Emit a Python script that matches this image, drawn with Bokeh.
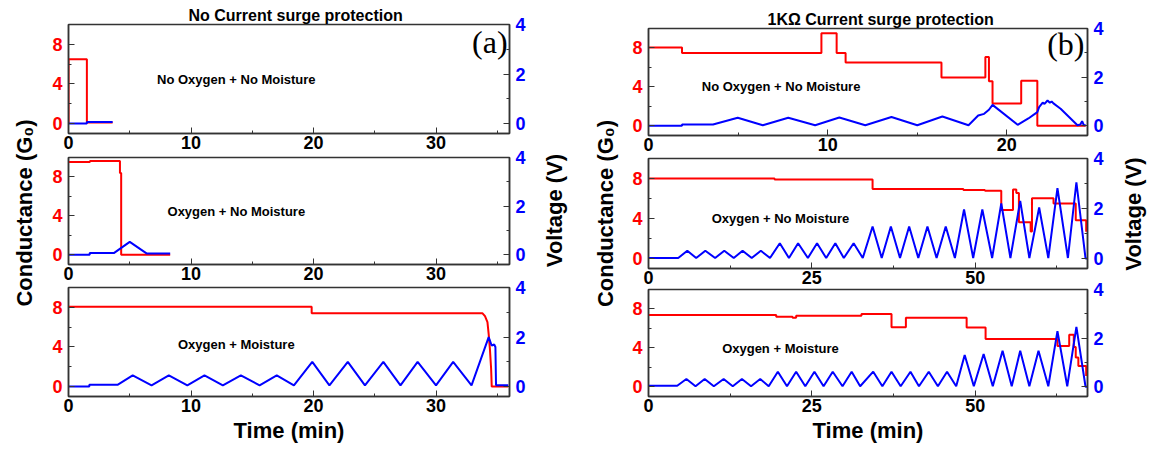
import math
from bokeh.plotting import figure
from bokeh.models import Range1d, LinearAxis, FixedTicker, Label, Title
from bokeh.layouts import row, column
from bokeh.embed import file_html
from bokeh.resources import INLINE

FONT = "Liberation Sans"
RED = "#ff0000"
BLUE = "#0000ff"
DARK = "#333333"

# ---------------- data: (a) No current surge protection ----------------
a1_gt = [0, 0, 1.5, 1.5, 3.6]
a1_g = [0, 6.5, 6.5, 0.1, 0.1]
a1_vt = [0, 1.5, 1.5, 3.6]
a1_v = [0, 0, 0.06, 0.06]

a2_gt = [0, 1.75, 1.75, 4.2, 4.2, 4.3, 4.3, 8.3]
a2_g = [9.55, 9.55, 9.65, 9.65, 8.4, 8.4, 0.0, 0.0]
a2_vt = [0, 1.73, 1.73, 3.7, 5.0, 6.4, 8.3]
a2_v = [0, 0, 0.07, 0.07, 0.53, 0.05, 0.05]

a3_gt = [0, 19.85, 19.85, 33.8, 34.0, 34.2, 34.3, 34.4, 34.5, 34.55, 35.9]
a3_g = [8.05, 8.05, 7.4, 7.4, 7.1, 6.5, 5.3, 3.8, 1.8, 0.0, 0.0]
a3_vt = [0, 1.7, 1.7, 4.0, 5.24, 6.78, 8.19, 9.7, 11.1, 12.6, 14.07, 15.6, 17.0, 18.4,
         19.9, 21.3, 22.8, 24.2, 25.7, 27.1, 28.5, 30.0, 31.4, 32.9, 34.3, 34.55, 34.75,
         34.85, 34.9, 35.9]
a3_v = [0, 0, 0.07, 0.07, 0.45, 0.05, 0.45, 0.05, 0.45, 0.05, 0.45, 0.05, 0.45, 0.05,
        1.0, 0.05, 1.0, 0.05, 1.0, 0.05, 1.0, 0.05, 1.0, 0.05, 2.0, 1.65, 1.7, 1.6, 0.05, 0.05]

# ---------------- data: (b) 1KOhm current surge protection ----------------
b1_gt = [0, 1.87, 1.87, 9.65, 9.65, 10.5, 10.5, 11.0, 11.0, 16.35, 16.35, 18.8, 18.8,
         19.0, 19.0, 19.2, 19.2, 20.8, 20.8, 21.7, 21.7, 24.4]
b1_g = [8.05, 8.05, 7.47, 7.47, 9.5, 9.5, 7.47, 7.47, 6.5, 6.5, 4.95, 4.95, 7.06,
        7.06, 4.57, 4.57, 2.29, 2.29, 4.64, 4.64, 0.0, 0.0]
b1_vt = [0, 1.87, 1.87, 3.6, 4.98, 6.38, 7.8, 9.3, 10.65, 12.1, 13.56, 15.0, 16.4, 17.86,
         18.4, 18.73, 19.0, 19.2, 20.6, 21.2, 21.7, 21.8, 22.0, 22.1, 22.27, 22.4, 22.5,
         22.6, 23.0, 23.94, 24.1, 24.2, 24.3, 24.4]
b1_v = [0, 0, 0.05, 0.05, 0.33, 0.02, 0.33, 0.02, 0.34, 0.02, 0.36, 0.02, 0.38, 0.02,
        0.42, 0.49, 0.66, 0.86, 0.04, 0.3, 0.56, 0.77, 0.95, 0.9, 1.04, 0.95, 1.0,
        0.92, 0.7, 0.02, 0.05, 0.19, 0.02, 0.02]

b2_gt = [0, 19.3, 19.3, 34.3, 34.3, 48.2, 48.2, 51.5, 51.5, 54.0, 54.0, 55.8, 55.8,
         56.3, 56.3, 56.7, 56.7, 58.5, 58.5, 58.7, 58.7, 62.0, 62.0, 65.4, 65.4, 67.0, 67.0]
b2_g = [8.0, 8.0, 7.9, 7.9, 6.95, 6.95, 6.85, 6.85, 6.78, 6.78, 4.85, 4.85, 6.9,
        6.9, 6.55, 6.55, 3.62, 3.62, 2.7, 2.7, 6.02, 6.02, 5.5, 5.5, 3.83, 3.83, 2.67]
b2_vt = [0, 4.55, 5.94, 7.3, 8.7, 10.2, 11.6, 13.05, 14.4, 15.8, 17.2, 18.6,
         20.1, 21.5, 22.9, 24.4, 25.8, 27.2, 28.6, 29.9, 31.4, 32.8,
         34.3, 35.7, 37.1, 38.5, 39.9, 41.3, 42.7, 44.1, 45.5, 46.9,
         48.3, 49.7, 51.1, 52.6, 54.0, 55.4, 56.9, 58.3, 59.8, 61.2, 62.6, 64.2, 65.5, 66.9, 67.2]
b2_v = [0.02, 0.02, 0.31, 0.02, 0.31, 0.02, 0.31, 0.02, 0.31, 0.02, 0.31, 0.02,
        0.61, 0.02, 0.61, 0.02, 0.61, 0.02, 0.61, 0.02, 0.61, 0.02,
        1.28, 0.02, 1.28, 0.02, 1.28, 0.02, 1.28, 0.02, 1.28, 0.02,
        1.96, 0.02, 1.96, 0.02, 2.2, 0.02, 2.3, 0.02, 2.04, 0.02, 2.81, 0.02, 3.05, 0.0, 0.0]

b3_gt = [0, 19.55, 19.55, 22.05, 22.05, 22.6, 22.6, 32.6, 32.6, 37.2, 37.2, 39.4, 39.4,
         48.7, 48.7, 51.6, 51.6, 62.6, 62.6, 64.4, 64.4, 65.1, 65.1, 65.4, 65.4, 65.8,
         65.8, 67.0, 67.0]
b3_g = [7.38, 7.38, 7.2, 7.2, 7.1, 7.1, 7.3, 7.3, 7.48, 7.48, 6.12, 6.12, 7.1,
        7.1, 6.09, 6.09, 4.92, 4.92, 4.18, 4.18, 5.34, 5.34, 4.08, 4.08, 3.0, 3.0,
        2.14, 2.14, 1.1]
b3_vt = [0, 4.4, 5.8, 7.2, 8.6, 10.0, 11.5, 12.9, 14.3, 15.7, 17.1, 18.4,
         19.8, 21.2, 22.6, 24.0, 25.4, 26.8, 28.2, 29.7, 31.1, 32.4,
         34.4, 35.8, 37.2, 38.6, 40.1, 41.4, 42.9, 44.3, 45.7, 47.1,
         48.4, 49.8, 51.3, 52.7, 54.2, 55.6, 56.9, 58.3, 59.7, 61.2,
         62.6, 64.1, 65.5, 66.9, 67.2]
b3_v = [0.04, 0.04, 0.32, 0.02, 0.32, 0.02, 0.32, 0.02, 0.32, 0.02, 0.32, 0.02,
        0.62, 0.02, 0.62, 0.02, 0.62, 0.02, 0.62, 0.02, 0.62, 0.02,
        0.62, 0.02, 0.62, 0.02, 0.62, 0.02, 0.62, 0.02, 0.62, 0.02,
        1.31, 0.02, 1.35, 0.02, 1.48, 0.02, 1.48, 0.02, 1.48, 0.02,
        2.29, 0.02, 2.46, 0.0, 0.0]

g_ticks = [0, 4, 8]
g_minor = [2, 6]
v_ticks = [0, 2, 4]
v_minor = [1, 3]
ta_ticks = [0, 10, 20, 30]
ta_minor = [5, 15, 25, 35]
tb1_ticks = [0, 10, 20]
tb1_minor = [5, 15]
tb_ticks = [0, 25, 50]
tb_minor = [12.5, 37.5, 62.5]

titles = ["No Current surge protection", "1K\u03a9 Current surge protection"]
conds = ["No Oxygen + No Moisture", "Oxygen + No Moisture", "Oxygen + Moisture"]

OVL = 12  # overlap (px) of a lower panel's transparent top border with the panel above


def style_axis(ax, color, standoff):
    ax.axis_line_color = DARK
    ax.axis_line_width = 1.5
    ax.major_tick_line_color = DARK
    ax.minor_tick_line_color = DARK
    ax.major_tick_in = 6
    ax.major_tick_out = 0
    ax.minor_tick_in = 3
    ax.minor_tick_out = 0
    ax.major_label_text_font = FONT
    ax.major_label_text_font_size = "18px"
    ax.major_label_text_font_style = "bold"
    ax.major_label_text_color = color
    ax.major_label_standoff = standoff


def panel(w, h, xend, bl, br, bt, bb, gt, g, vt, v, xt, xm, cond, cpos, xlabel=None, overlap=0):
    p = figure(width=w, height=h + overlap, x_range=Range1d(0, xend), y_range=Range1d(-1, 10),
               title=None, toolbar_location=None, output_backend="svg",
               min_border_left=bl, min_border_right=br, min_border_top=bt + overlap,
               min_border_bottom=bb)
    if overlap:
        p.margin = (-overlap, 0, 0, 0)
    p.border_fill_color = None
    p.xgrid.visible = False
    p.ygrid.visible = False
    p.outline_line_color = DARK
    p.outline_line_width = 1.5
    p.extra_y_ranges = {"v": Range1d(-0.4, 4)}
    p.line(gt, g, color=RED, line_width=2)
    p.line(vt, v, color=BLUE, line_width=2, y_range_name="v")
    rax = LinearAxis(y_range_name="v", ticker=FixedTicker(ticks=v_ticks, minor_ticks=v_minor))
    p.add_layout(rax, "right")
    style_axis(rax, BLUE, 6)
    p.yaxis[0].ticker = FixedTicker(ticks=g_ticks, minor_ticks=g_minor)
    style_axis(p.yaxis[0], RED, 6)
    p.xaxis[0].ticker = FixedTicker(ticks=xt, minor_ticks=xm)
    style_axis(p.xaxis[0], "black", 2)
    if xlabel:
        p.xaxis[0].axis_label = xlabel
        p.xaxis[0].axis_label_text_font = FONT
        p.xaxis[0].axis_label_text_font_size = "22px"
        p.xaxis[0].axis_label_text_font_style = "bold"
        p.xaxis[0].axis_label_text_color = "black"
        p.xaxis[0].axis_label_standoff = 3
    p.add_layout(Label(x=cpos[0], y=cpos[1], text=cond, text_align="center",
                       text_baseline="middle", text_font=FONT, text_font_size="13px",
                       text_font_style="bold", text_color="black"))
    return p


f1 = panel(493, 155, 36, 30, 22, 24, 22, a1_gt, a1_g, a1_vt, a1_v, ta_ticks, ta_minor, conds[0], (13.7, 4.4))
f2 = panel(493, 130, 36, 30, 22, 2, 21, a2_gt, a2_g, a2_vt, a2_v, ta_ticks, ta_minor, conds[1], (13.7, 4.44), overlap=OVL)
f3 = panel(493, 160, 36, 30, 22, 2, 49, a3_gt, a3_g, a3_vt, a3_v, ta_ticks, ta_minor, conds[2], (13.7, 4.2), "Time (min)", overlap=OVL)
f4 = panel(487, 157, 24.5, 28, 20, 28, 22, b1_gt, b1_g, b1_vt, b1_v, tb1_ticks, tb1_minor, conds[0], (7.4, 4.0))
f5 = panel(487, 132, 67.2, 28, 20, 1, 21, b2_gt, b2_g, b2_vt, b2_v, tb_ticks, tb_minor, conds[1], (20.2, 4.0), overlap=OVL)
f6 = panel(487, 156, 67.2, 28, 20, 0, 47, b3_gt, b3_g, b3_vt, b3_v, tb_ticks, tb_minor, conds[2], (20.2, 3.95), "Time (min)", overlap=OVL)

f1.add_layout(Title(text=titles[0], align="left", offset=120, standoff=0, vertical_align="middle",
                    text_font=FONT, text_font_size="16px", text_font_style="bold",
                    text_color="black"), "above")
f4.add_layout(Title(text=titles[1], align="left", offset=119, standoff=0, vertical_align="middle",
                    text_font=FONT, text_font_size="16px", text_font_style="bold",
                    text_color="black"), "above")
f1.add_layout(Label(x=35.84, y=8.26, text="(a)", text_align="right", text_baseline="middle",
                    text_font="Liberation Serif", text_font_size="32px", text_color="black"))
f4.add_layout(Label(x=24.33, y=8.45, text="(b)", text_align="right", text_baseline="middle",
                    text_font="Liberation Serif", text_font_size="32px", text_color="black"))


def side_label(w, x, y, text):
    p = figure(width=w, height=445, x_range=Range1d(0, w), y_range=Range1d(0, 445),
               title=None, toolbar_location=None, output_backend="svg",
               x_axis_location=None, y_axis_location=None,
               min_border_left=0, min_border_right=0, min_border_top=0, min_border_bottom=0)
    p.xgrid.visible = False
    p.ygrid.visible = False
    p.outline_line_color = None
    p.add_layout(Label(x=x, y=y, text=text, angle=math.pi / 2, text_align="center",
                       text_baseline="middle", text_font=FONT, text_font_size="22px",
                       text_font_style="bold", text_color="black"))
    return p


yl1 = side_label(38, 24, 232.5, "Conductance (G\u2080)")
vl1 = side_label(48, 23, 235, "Voltage (V)")
yl2 = side_label(41, 26, 232, "Conductance (G\u2080)")
vl2 = side_label(40, 26, 231.5, "Voltage (V)")

layout = row(yl1, column(f1, f2, f3), vl1, yl2, column(f4, f5, f6), vl2)

with open("out.html", "w") as fh:
    fh.write(file_html(layout, INLINE))
